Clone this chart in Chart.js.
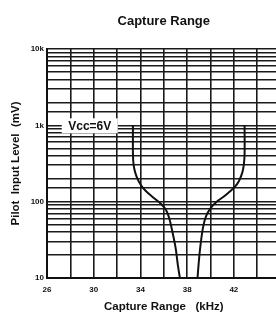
<!DOCTYPE html>
<html>
<head>
<meta charset="utf-8">
<script src="https://cdn.jsdelivr.net/npm/chart.js@4"></script>
<style>
  html, body { margin: 0; padding: 0; background: #fff; overflow: hidden; }
  #wrap { width: 292px; height: 318px; }
</style>
</head>
<body>
<div id="wrap"><canvas id="myChart" width="292" height="318"></canvas></div>
<script>
// data
const leftKhz  = [33.36, 33.36, 33.41, 33.55, 33.83, 34.2, 34.62, 35.18, 35.75, 36.17, 36.45, 36.73, 37.01, 37.2, 37.38];
const leftMv   = [1000, 422, 310, 242, 187, 153, 131, 111, 94, 79, 62, 41, 25, 15, 10];
const rightKhz = [42.92, 42.92, 42.86, 42.73, 42.44, 42.08, 41.65, 41.09, 40.53, 40.03, 39.63, 39.35, 39.12, 38.98, 38.89];
const rightMv  = [1000, 422, 310, 242, 187, 156, 136, 115, 100, 83, 65, 45, 25, 15, 10];
const yLabels = { 10: "10", 100: "100", 1000: "1k", 10000: "10k" };
const xLabelStep = 4;

const font = "'Liberation Sans', Arial, sans-serif";

function points(xs, ys) {
  return xs.map((x, i) => ({ x: x, y: ys[i] }));
}

// label with white box over the grid
const vccLabel = {
  id: "vccLabel",
  afterDatasetsDraw(chart) {
    const ctx = chart.ctx;
    const x = chart.scales.x.getPixelForValue(29.66);
    const y = chart.scales.y.getPixelForValue(1000);
    ctx.save();
    ctx.fillStyle = "#fff";
    ctx.fillRect(x - 28, y - 7, 56, 15);
    ctx.fillStyle = "#111";
    ctx.font = "bold 12px " + font;
    ctx.textAlign = "center";
    ctx.textBaseline = "middle";
    ctx.fillText("Vcc=6V", x, y + 1);
    ctx.restore();
  }
};

const data = {
  datasets: [
    { data: points(leftKhz, leftMv), borderColor: "#111", borderWidth: 2, pointRadius: 0, tension: 0.3, fill: false },
    { data: points(rightKhz, rightMv), borderColor: "#111", borderWidth: 2, pointRadius: 0, tension: 0.3, fill: false }
  ]
};

const config = {
  type: "line",
  data,
  options: {
    responsive: false,
    animation: false,
    layout: { padding: { left: 0, right: 10, top: 0, bottom: 0 } },
    plugins: {
      legend: { display: false },
      tooltip: { enabled: false },
      title: {
        display: true,
        fullSize: false,
        text: "Capture Range",
        color: "#111",
        font: { family: font, size: 13, weight: "bold" },
        padding: { top: 14, bottom: 19.4 }
      }
    },
    scales: {
      x: {
        type: "linear",
        min: 26,
        max: 46,
        afterFit(scale) { scale.height = 40; },
        grid: { color: "#1a1a1a", lineWidth: 1.6, drawTicks: false },
        border: { color: "#111", width: 2 },
        ticks: {
          stepSize: 2,
          autoSkip: false,
          maxRotation: 0,
          padding: 7,
          color: "#111",
          font: { family: font, size: 8, weight: "bold" },
          callback: (v) => ((v - 26) % xLabelStep === 0 ? String(v) : "")
        },
        title: {
          display: true,
          text: "Capture Range   (kHz)",
          color: "#111",
          font: { family: font, size: 11.5, weight: "bold" },
          padding: { top: 0, bottom: 4 }
        }
      },
      y: {
        type: "logarithmic",
        min: 10,
        max: 10000,
        afterFit(scale) { scale.width = 47; },
        grid: { color: "#1a1a1a", lineWidth: 1.6, drawTicks: false },
        border: { color: "#111", width: 2 },
        ticks: {
          autoSkip: false,
          padding: 3,
          color: "#111",
          font: { family: font, size: 8, weight: "bold" },
          callback: (v) => yLabels[v] || ""
        },
        title: {
          display: true,
          text: "Pilot  Input Level  (mV)",
          color: "#111",
          font: { family: font, size: 11.5, weight: "bold" },
          padding: { top: 9, bottom: 0 }
        }
      }
    }
  },
  plugins: [vccLabel]
};

const myChart = new Chart(document.getElementById("myChart"), config);
</script>
</body>
</html>
